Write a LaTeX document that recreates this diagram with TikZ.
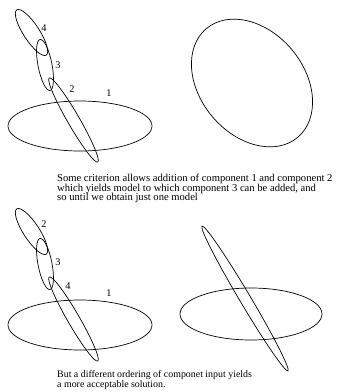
\documentclass[tikz,border=0pt]{standalone}
\usepackage{fontspec}
\setmainfont{Liberation Serif}
\begin{document}
\begin{tikzpicture}[x=1pt,y=1pt,
  comp/.style={line width=0.7pt},
  lbl/.style={inner sep=0pt,font=\fontsize{10.3}{10}\selectfont},
  txt/.style={inner sep=0pt,anchor=base west,font=\fontsize{10.6}{10}\selectfont},
  txtb/.style={txt,font=\fontsize{9.9}{10}\selectfont}]
\useasboundingbox (0,0) rectangle (346,-392);
% ---- top left group
\draw[comp] (80,-126) ellipse [x radius=72, y radius=25];
\draw[comp] (73.5,-120) ellipse [x radius=48.6, y radius=6, rotate=-60];
\draw[comp] (45,-65) ellipse [x radius=26, y radius=7, rotate=-79];
\draw[comp] (31.5,-32.5) ellipse [x radius=27, y radius=8, rotate=-57];
\node[lbl] (t4) at (44,-28) {4};
\node[lbl] (t3) at (58,-65) {3};
\node[lbl] (t2) at (72,-89) {2};
\node[lbl] (t1) at (109,-93) {1};
% ---- top right
\draw[comp] (252,-83) ellipse [x radius=71, y radius=52, rotate=-50];
% ---- text
\node[txt] (l1) at (57,-181.5) {Some criterion allows addition of component 1 and component 2};
\node[txt] (l2) at (57,-191) {which yields model to which component 3 can be added, and};
\node[txt] (l3) at (57,-200.5) {so until we obtain just one model};
% ---- bottom left group
\begin{scope}[yshift=-199pt]
\draw[comp] (80,-126) ellipse [x radius=72, y radius=25];
\draw[comp] (73.5,-120) ellipse [x radius=48.6, y radius=6, rotate=-60];
\draw[comp] (45,-65) ellipse [x radius=26, y radius=7, rotate=-79];
\draw[comp] (31.5,-32.5) ellipse [x radius=27, y radius=8, rotate=-57];
\end{scope}
\node[lbl] (b2) at (44,-224) {2};
\node[lbl] (b3) at (58,-262) {3};
\node[lbl] (b4) at (68,-286) {4};
\node[lbl] (b1) at (109,-293) {1};
% ---- bottom right
\draw[comp] (251,-314) ellipse [x radius=71, y radius=26];
\draw[comp] (245,-298.5) ellipse [x radius=84.3, y radius=5.5, rotate=-59.3];
% ---- text
\node[txtb] (m1) at (57,-377.5) {But a different ordering of componet input yields};
\node[txtb] (m2) at (57,-387.5) {a more acceptable solution.};
\end{tikzpicture}
\end{document}
